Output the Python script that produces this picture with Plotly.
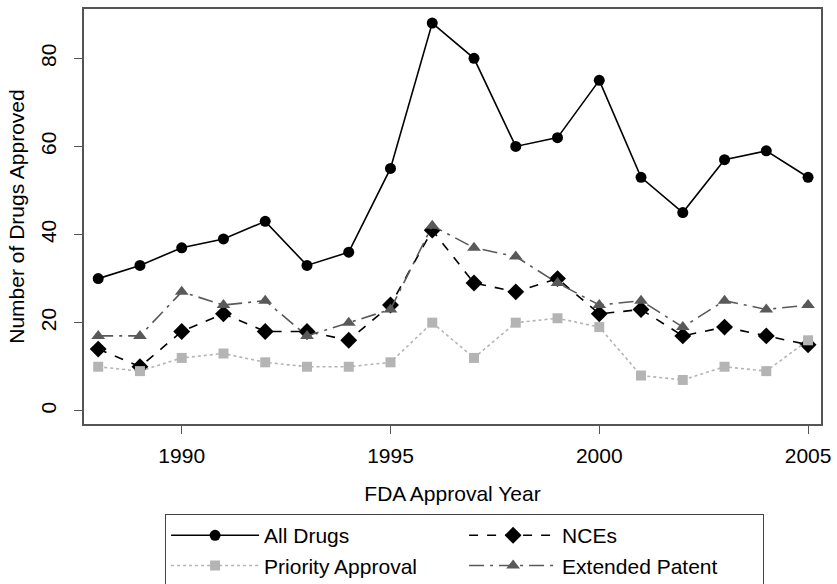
import plotly.graph_objects as go

years = list(range(1988, 2006))
all_drugs = [30, 33, 37, 39, 43, 33, 36, 55, 88, 80, 60, 62, 75, 53, 45, 57, 59, 53]
nces = [14, 10, 18, 22, 18, 18, 16, 24, 41, 29, 27, 30, 22, 23, 17, 19, 17, 15]
priority = [10, 9, 12, 13, 11, 10, 10, 11, 20, 12, 20, 21, 19, 8, 7, 10, 9, 16]
extended = [17, 17, 27, 24, 25, 17, 20, 23, 42, 37, 35, 29, 24, 25, 19, 25, 23, 24]

x_ticks = [1990, 1995, 2000, 2005]
y_ticks = [0, 20, 40, 60, 80]

FONT = "Liberation Sans, Arial, Helvetica, sans-serif"
FS = 21

fig = go.Figure()
fig.add_trace(go.Scatter(
    x=years, y=all_drugs, name="All Drugs", mode="lines+markers",
    line=dict(color="black", width=1.6, dash="solid"),
    marker=dict(symbol="circle", size=11, color="black")))
fig.add_trace(go.Scatter(
    x=years, y=nces, name="NCEs", mode="lines+markers",
    line=dict(color="black", width=1.6, dash="dash"),
    marker=dict(symbol="diamond", size=13, color="black")))
fig.add_trace(go.Scatter(
    x=years, y=priority, name="Priority Approval", mode="lines+markers",
    line=dict(color="#b4b4b4", width=1.6, dash="dot"),
    marker=dict(symbol="square", size=10, color="#b4b4b4")))
fig.add_trace(go.Scatter(
    x=years, y=extended, name="Extended Patent", mode="lines+markers",
    line=dict(color="#595959", width=1.6, dash="longdashdot"),
    marker=dict(symbol="triangle-up", size=12, color="#595959")))

axis_common = dict(
    showline=True, linecolor="#555555", linewidth=1.5, mirror=True,
    ticks="outside", ticklen=8, tickcolor="#555555", tickwidth=1.2,
    showgrid=False, zeroline=False,
    tickfont=dict(family=FONT, size=FS, color="black"),
)

fig.update_layout(
    width=837, height=584,
    margin=dict(l=84, r=16, t=9, b=160, autoexpand=False),
    plot_bgcolor="white", paper_bgcolor="white",
    font=dict(family=FONT, size=FS, color="black"),
    xaxis=dict(range=[1987.66, 2005.31], tickvals=x_ticks, ticklabelstandoff=4,
               title=dict(text="FDA Approval Year", font=dict(size=FS), standoff=20),
               **axis_common),
    yaxis=dict(range=[-3.0, 91.2], tickvals=y_ticks, tickangle=-90, ticklabelstandoff=10,
               title=dict(text="Number of Drugs Approved", font=dict(size=FS), standoff=6),
               **axis_common),
    legend=dict(
        orientation="h", xref="container", x=0.197, xanchor="left",
        yref="container", y=0.12, yanchor="top",
        entrywidth=195, entrywidthmode="pixels",
        bordercolor="#444444", borderwidth=1.2, bgcolor="white",
        font=dict(family=FONT, size=FS, color="black"),
        traceorder="normal", itemwidth=88,
    ),
    showlegend=True,
)

fig.write_html("out.html")
